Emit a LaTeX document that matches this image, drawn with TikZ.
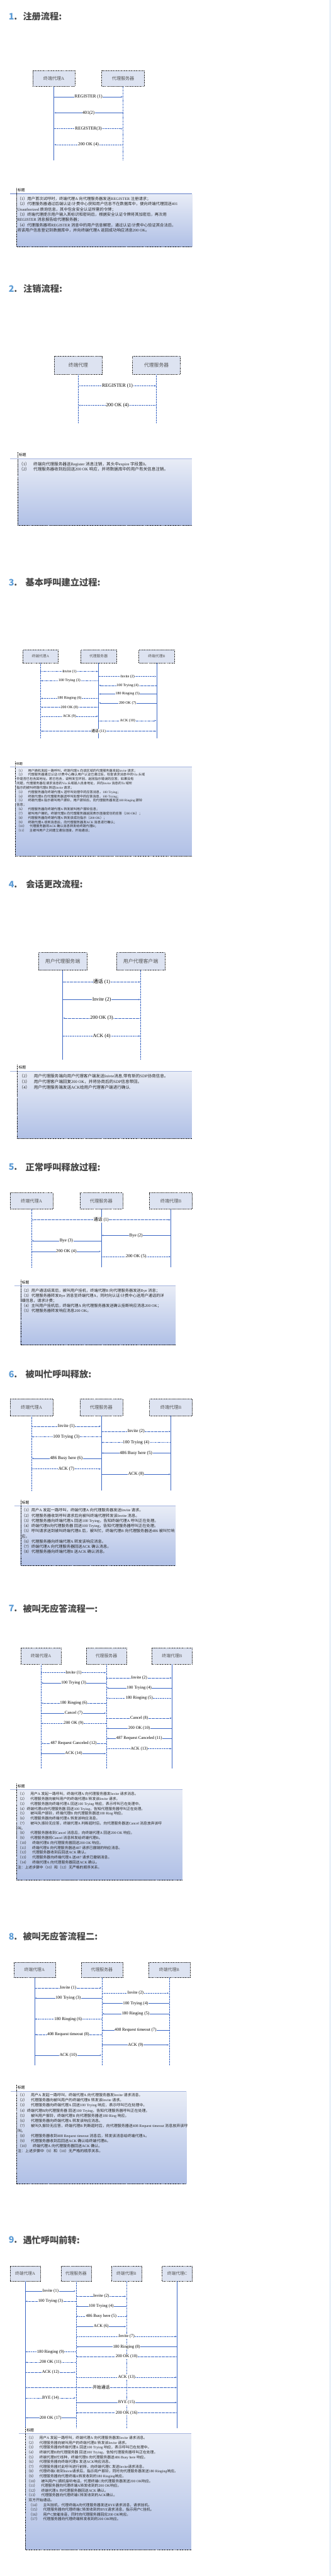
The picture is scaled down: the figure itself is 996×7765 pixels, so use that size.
\documentclass[tikz,border=0pt]{standalone}
\usepackage{fontspec}
\setmainfont{Liberation Serif}
\newfontfamily\cjk{Noto Sans CJK SC}
\usetikzlibrary{arrows.meta}

% CJK characters switch to the CJK family, the rest stays serif
\XeTeXinterchartokenstate=1
\newXeTeXintercharclass\cjkcls
\newcount\cjkcnt
\cjkcnt="3000 \loop\ifnum\cjkcnt<"3040 \XeTeXcharclass\cjkcnt=\cjkcls \advance\cjkcnt by 1 \repeat
\cjkcnt="4E00 \loop\ifnum\cjkcnt<"A000 \XeTeXcharclass\cjkcnt=\cjkcls \advance\cjkcnt by 1 \repeat
\cjkcnt="FF00 \loop\ifnum\cjkcnt<"FFF0 \XeTeXcharclass\cjkcnt=\cjkcls \advance\cjkcnt by 1 \repeat
\XeTeXinterchartoks 0 \cjkcls = {\cjk}
\XeTeXinterchartoks 4095 \cjkcls = {\cjk}
\XeTeXinterchartoks \cjkcls 0 = {\rmfamily}
\XeTeXinterchartoks \cjkcls 4095 = {\rmfamily}

\definecolor{linecol}{HTML}{3A66C4}
\definecolor{boxfill}{HTML}{DDE3F1}
\definecolor{boxtext}{HTML}{555555}
\definecolor{notetop}{HTML}{E8ECF6}
\definecolor{notebot}{HTML}{B0C0E6}
\definecolor{notecapcol}{HTML}{A4B4DF}
\definecolor{numblue}{HTML}{5B9BD5}
\definecolor{titlegray}{HTML}{474747}
\definecolor{edgeblue}{HTML}{CADCF0}

\tikzset{
  sectnum/.style={anchor=west,inner sep=0pt,text=numblue,
    font={\XeTeXinterchartokenstate=0 \cjk\bfseries\fontsize{27}{30}\selectfont}},
  secttitle/.style={anchor=west,inner sep=0pt,text=titlegray,
    font={\XeTeXinterchartokenstate=0 \cjk\bfseries\fontsize{27}{30}\selectfont}},
  agent/.style={draw=black!85,densely dashed,line width=0.7pt,fill=boxfill,
    text=boxtext,inner sep=0pt,anchor=north west},
  lifeS/.style={draw=linecol,line width=0.8pt},
  lifeD/.style={draw=linecol,line width=0.8pt,dash pattern=on 1.5pt off 1pt},
  lifeT/.style={draw=linecol,line width=1.1pt,dash pattern=on 2pt off 1.2pt},
  msg/.style={draw=linecol,line width=0.7pt,->,shorten >=1.5pt},
  lnsolid/.style={msg},
  lndot/.style={msg,line width=1.1pt,dash pattern=on 1.2pt off 1.4pt},
  lnfine/.style={msg,dash pattern=on 1.5pt off 0.8pt},
  lndash/.style={msg,dash pattern=on 3pt off 1.5pt},
  lnboth/.style={lnfine,<->,shorten <=1.5pt},
  lbl/.style={fill=white,inner sep=1pt,text=black},
  notecap/.style={draw=notecapcol,line width=2.2pt},
  noteedge/.style={draw=black,densely dashed,line width=0.7pt},
  notelabel/.style={anchor=west,inner sep=0pt,text=black,font=\fontsize{11}{12}\selectfont},
  notetext/.style={anchor=north west,inner sep=0pt,align=left,text=black!85}
}

\begin{document}
\begin{tikzpicture}[x=1pt,y=-1pt,>={Stealth[length=5pt,width=4pt]}]
\useasboundingbox (0,0) rectangle (996,7765);
\fill[white] (0,0) rectangle (996,7765);
\draw[edgeblue,line width=1.5pt] (995,0) -- (995,7765);

%% section titles
\foreach \nm/\yy/\xx/\tx in {1/50/69/注册流程:, 2/871/70/注销流程:,
  3/1756/77/基本呼叫建立过程:, 4/2666/78/会话更改流程:,
  5/3518/77/正常呼叫释放过程:, 6/4142/77/被叫忙呼叫释放:,
  7/4849/69/被叫无应答流程一:, 8/5838/69/被叫无应答流程二:,
  9/6752/69/遇忙呼叫前转:}
{
  \node[sectnum] (num\nm) at (26,\yy) {\nm{\color{titlegray}.}};
  \node[secttitle] (title\nm) at (\xx,\yy) {\tx};
}

%% 1. register
\begin{scope}[agent/.append style={minimum height=48,font=\fontsize{13.4}{15}\selectfont},
  lbl/.append style={font=\fontsize{13.5}{15}\selectfont}]
\foreach \nm/\xx/\ww/\ls/\tx in {s1a/98/128/lifeS/终端代理A, s1s/306/129/lifeT/代理服务器}
{
  \node[agent,minimum width=\ww] (\nm) at (\xx,212) {\tx};
  \draw[\ls] (\nm.south) -- (\nm.south |- 0,484) coordinate (\nm-end);
}
\foreach \mY/\mA/\mB/\mT/\mS in {
  292/s1a/s1s/REGISTER (1)/lnsolid, 340/s1s/s1a/401(2)/lnsolid,
  388/s1a/s1s/REGISTER(3)/lndot, 436/s1s/s1a/200 OK (4)/lndot}
{
  \draw[\mS] (\mA |- 0,\mY) -- node[lbl] {\mT} (\mB |- 0,\mY);
}
\end{scope}
\shade[top color=notetop,bottom color=notebot] (50,584) rectangle (579,744);
\draw[notecap] (31,584) -- (579,584);
\draw[noteedge] (50,566) -- (50,744) -- (579,744);
\node[notelabel] (lab1) at (53,574) {标题};
\node[notetext,font=\fontsize{12}{15.8}\selectfont] (note1) at (52,593) {%
（1）用户首次试呼时，终端代理A 向代理服务器发送REGISTER 注册请求；\\
（2）代理服务器通过后端认证/计费中心获知用户信息不在数据库中，便向终端代理回送401\\
Unauthorized 质询信息，其中包含安全认证所需的令牌；\\
（3）终端代理提示用户输入其标识和密码后，根据安全认证令牌将其加密后，再次用\\
REGISTER 消息报告给代理服务器；\\
（4）代理服务器将REGISTER 消息中的用户信息解密，通过认证/计费中心验证其合法后，\\
将该用户信息登记到数据库中，并向终端代理A 返回成功响应消息200 OK。};

%% 2. unregister
\begin{scope}[agent/.append style={minimum height=55,font=\fontsize{14.8}{16}\selectfont},
  lbl/.append style={font=\fontsize{15}{16}\selectfont}]
\foreach \nm/\xx/\ww/\ls/\tx in {s2a/163/145/lifeD/终端代理, s2s/399/144/lifeD/代理服务器}
{
  \node[agent,minimum width=\ww] (\nm) at (\xx,1073) {\tx};
  \draw[\ls] (\nm.south) -- (\nm.south |- 0,1276) coordinate (\nm-end);
}
\foreach \mY/\mA/\mB/\mT/\mS in {
  1163/s2a/s2s/REGISTER (1)/lndot, 1222/s2s/s2a/200 OK (4)/lndot}
{
  \draw[\mS] (\mA |- 0,\mY) -- node[lbl] {\mT} (\mB |- 0,\mY);
}
\end{scope}
\shade[top color=notetop,bottom color=notebot] (53,1383) rectangle (578,1584);
\draw[notecap] (31,1383) -- (578,1383);
\draw[noteedge] (53,1363) -- (53,1584) -- (578,1584);
\node[notelabel] (lab2) at (57,1371) {标题};
\node[notetext,font=\fontsize{12.5}{17}\selectfont] (note2) at (57,1392) {%
（1）\quad 终端向代理服务器送Register 消息注销，其头中expire 字段置0。\\
（2）\quad 代理服务器收到后回送200 OK 响应，并将数据库中的用户有关信息注销。};

%% 3. basic call setup
\begin{scope}[agent/.append style={minimum height=40,font=\fontsize{11}{12}\selectfont},
  lbl/.append style={font=\fontsize{11.3}{12}\selectfont}]
\foreach \nm/\xx/\ls/\tx in {s3a/68/lifeD/终端代理A, s3s/243/lifeS/代理服务器, s3b/418/lifeS/终端代理B}
{
  \node[agent,minimum width=107] (\nm) at (\xx,1958) {\tx};
  \draw[\ls] (\nm.south) -- (\nm.south |- 0,2226) coordinate (\nm-end);
}
\foreach \mY/\mA/\mB/\mT/\mS in {
  2024/s3a/s3s/Invite (1)/lndash, 2039/s3s/s3b/Invite (2)/lndot,
  2052/s3s/s3a/100 Trying (3)/lndash, 2066/s3b/s3s/100 Trying (4)/lnfine,
  2092/s3b/s3s/180 Ringing (5)/lnsolid, 2105/s3s/s3a/180 Ringing (6)/lndot,
  2119/s3b/s3s/200 OK (7)/lnsolid, 2132/s3s/s3a/200 OK (8)/lnfine,
  2159/s3a/s3s/ACK (9)/lndot, 2172/s3s/s3b/ACK (10)/lndash,
  2204/s3a/s3b/通话 (11)/lnboth}
{
  \draw[\mS] (\mA |- 0,\mY) -- node[lbl] {\mT} (\mB |- 0,\mY);
}
\end{scope}
\shade[top color=notetop,bottom color=notebot] (46,2312) rectangle (578,2580);
\draw[notecap] (30,2312) -- (578,2312);
\draw[noteedge] (46,2295) -- (46,2580) -- (578,2580);
\node[notelabel,font=\fontsize{9.5}{10}\selectfont] (lab3) at (49,2303) {标题};
\node[notetext,font=\fontsize{9.8}{12.95}\selectfont] (note3) at (50,2317.6) {%
（1）\quad 用户摘机发起一路呼叫，终端代理A 向该区域的代理服务器发起Invite 请求；\\
（2）\quad 代理服务器通过认证/计费中心确认用户认证已通过后，检查请求消息中的Via 头域\\
中是否已包含其地址。若已包含，说明发生环回，返回指示错误的应答；如果没有\\
问题，代理服务器在请求消息的Via 头域插入自身地址，并向Invite 消息的To 域所\\
指示的被叫终端代理B 转送Invite 请求；\\
（3）\quad 代理服务器向终端代理A 送呼叫处理中的应答消息，100 Trying；\\
（4）\quad 终端代理B 向代理服务器送呼叫处理中的应答消息，100 Trying；\\
（5）\quad 终端代理B 指示被叫用户振铃，用户振铃后，向代理服务器发送180 Ringing 振铃\\
信息；\\
（6）\quad 代理服务器向终端代理A 转发被叫用户振铃信息；\\
（7）\quad 被叫用户摘机，终端代理B 向代理服务器返回表示连接成功的应答（200 OK）；\\
（8）\quad 代理服务器向终端代理A 转发该成功指示（200 OK）；\\
（9）\quad 终端代理A 收到消息后，向代理服务器发ACK 消息进行确认；\\
（10）\quad 代理服务器将ACK 确认消息转发给终端代理B；\\
（11）\quad 主被叫用户之间建立通信连接，开始通话；};

%% 4. session change
\begin{scope}[agent/.append style={minimum height=54,font=\fontsize{15}{16}\selectfont},
  lbl/.append style={font=\fontsize{15}{16}\selectfont}]
\foreach \nm/\xx/\ls/\tx in {s4a/116/lifeS/用户代理服务端, s4b/351/lifeD/用户代理客户端}
{
  \node[agent,minimum width=145] (\nm) at (\xx,2870) {\tx};
  \draw[\ls] (\nm.south) -- (\nm.south |- 0,3194) coordinate (\nm-end);
}
\foreach \mY/\mA/\mB/\mT/\mS in {
  2960/s4a/s4b/通话 (1)/lnfine, 3013/s4a/s4b/Invite (2)/lnsolid,
  3069/s4b/s4a/200 OK (3)/lnfine, 3123/s4a/s4b/ACK (4)/lndot}
{
  \draw[\mS] (\mA |- 0,\mY) -- node[lbl] {\mT} (\mB |- 0,\mY);
}
\end{scope}
\shade[top color=notetop,bottom color=notebot] (52,3230) rectangle (578,3431);
\draw[notecap] (31,3230) -- (578,3230);
\draw[noteedge] (52,3209) -- (52,3431) -- (578,3431);
\node[notelabel] (lab4) at (56,3217) {标题};
\node[notetext,font=\fontsize{12.5}{17}\selectfont] (note4) at (58,3238) {%
（2）\quad 用户代理服务端向用户代理客户端发送Inivte消息,带有新的SDP协商信息。\\
（3）\quad 用户代理客户端回复200 OK，并将协商后的SDP信息带回。\\
（4）\quad 用户代理服务端发送ACK给用户代理客户端进行确认.};

%% 5. normal release
\begin{scope}[agent/.append style={minimum height=49,font=\fontsize{13.6}{15}\selectfont},
  lbl/.append style={font=\fontsize{13.3}{15}\selectfont}]
\foreach \nm/\xx/\ls/\tx in {s5a/30/lifeD/终端代理A, s5s/240/lifeS/代理服务器, s5b/450/lifeS/终端代理B}
{
  \node[agent,minimum width=129] (\nm) at (\xx,3595) {\tx};
  \draw[\ls] (\nm.south) -- (\nm.south |- 0,3820) coordinate (\nm-end);
}
\foreach \mY/\mA/\mB/\mT/\mS in {
  3677/s5a/s5b/通话 (1)/lnboth, 3724/s5b/s5s/Bye (2)/lnsolid,
  3740/s5s/s5a/Bye (3)/lnsolid, 3772/s5a/s5s/200 OK (4)/lnsolid,
  3788/s5s/s5b/200 OK (5)/lndot}
{
  \draw[\mS] (\mA |- 0,\mY) -- node[lbl] {\mT} (\mB |- 0,\mY);
}
\end{scope}
\shade[top color=notetop,bottom color=notebot] (62,3876) rectangle (529,4054);
\draw[notecap] (43,3876) -- (529,3876);
\draw[noteedge] (62,3857) -- (62,4054) -- (529,4054);
\node[notelabel] (lab5) at (66,3865) {标题};
\node[notetext,font=\fontsize{11.8}{15.3}\selectfont] (note5) at (65,3884) {%
（2）用户通话结束后，被叫用户挂机，终端代理B 向代理服务器发送Bye 消息；\\
（3）代理服务器转发Bye 消息至终端代理A，同时向认证/计费中心送用户通话的详\\
细信息，请求计费；\\
（4）主叫用户挂机后，终端代理A 向代理服务器发送确认挂断响应消息200 OK；\\
（5）代理服务器转发响应消息200 OK。};

%% 6. busy release
\begin{scope}[agent/.append style={minimum height=50,font=\fontsize{13.6}{15}\selectfont},
  lbl/.append style={font=\fontsize{13.6}{15}\selectfont}]
\foreach \nm/\xx/\ls/\tx in {s6a/30/lifeD/终端代理A, s6s/240/lifeS/代理服务器, s6b/450/lifeS/终端代理B}
{
  \node[agent,minimum width=129] (\nm) at (\xx,4217) {\tx};
  \draw[\ls] (\nm.south) -- (\nm.south |- 0,4493) coordinate (\nm-end);
}
\foreach \mY/\mA/\mB/\mT/\mS in {
  4299/s6a/s6s/Invite (1)/lnfine, 4315/s6s/s6b/Invite (2)/lnfine,
  4331/s6s/s6a/100 Trying (3)/lndash, 4348/s6b/s6s/100 Trying (4)/lndash,
  4380/s6b/s6s/486 Busy here (5)/lnsolid, 4396/s6s/s6a/486 Busy here (6)/lnsolid,
  4428/s6a/s6s/ACK (7)/lndot, 4444/s6s/s6b/ACK (8)/lnsolid}
{
  \draw[\mS] (\mA |- 0,\mY) -- node[lbl] {\mT} (\mB |- 0,\mY);
}
\end{scope}
\shade[top color=notetop,bottom color=notebot] (62,4540) rectangle (529,4719);
\draw[notecap] (43,4540) -- (529,4540);
\draw[noteedge] (62,4521) -- (62,4719) -- (529,4719);
\node[notelabel] (lab6) at (66,4529) {标题};
\node[notetext,font=\fontsize{11.8}{15.6}\selectfont] (note6) at (65,4547) {%
（1）用户A 发起一路呼叫，终端代理A 向代理服务器发送Invite 请求。\\
（2）代理服务器收到呼叫请求后向被叫终端代理转发该Invite 消息。\\
（3）代理服务器向终端代理A 回送100 Trying，告知终端代理A 呼叫正在处理。\\
（4）终端代理B向代理服务器 回送100 Trying，告知代理服务器呼叫正在处理。\\
（5）呼叫请求送到被叫终端代理B 后，被叫忙，终端代理B 向代理服务器送486 被叫忙响\\
应。\\
（6）代理服务器向终端代理A 转发该响应消息。\\
（7）终端代理A 向代理服务器回送ACK 确认消息。\\
（8）代理服务器向终端代理B 送ACK 确认消息。};

%% 7. no answer, case one
\begin{scope}[agent/.append style={minimum height=50,font=\fontsize{13}{15}\selectfont},
  lbl/.append style={font=\fontsize{12.8}{14}\selectfont}]
\foreach \nm/\xx/\ls/\tx in {s7a/62/lifeD/终端代理A, s7s/259/lifeD/代理服务器, s7b/457/lifeS/终端代理B}
{
  \node[agent,minimum width=122] (\nm) at (\xx,4966) {\tx};
  \draw[\ls] (\nm.south) -- (\nm.south |- 0,5330) coordinate (\nm-end);
}
\foreach \mY/\mA/\mB/\mT/\mS in {
  5042/s7a/s7s/Invite (1)/lndot, 5058/s7s/s7b/Invite (2)/lnfine,
  5073/s7s/s7a/100 Trying (3)/lnsolid, 5088/s7b/s7s/100 Trying (4)/lnsolid,
  5119/s7b/s7s/180 Ringing (5)/lndot, 5134/s7s/s7a/180 Ringing (6)/lnfine,
  5164/s7a/s7s/Cancel (7)/lnsolid, 5179/s7s/s7b/Cancel (8)/lnfine,
  5195/s7s/s7a/200 OK (9)/lndot, 5210/s7b/s7s/200 OK (10)/lnsolid,
  5240/s7b/s7s/487 Request Canceled (11)/lnsolid,
  5255/s7s/s7a/487 Request Canceled (12)/lnfine,
  5271/s7s/s7b/ACK (13)/lndot, 5286/s7a/s7s/ACK (14)/lnsolid}
{
  \draw[\mS] (\mA |- 0,\mY) -- node[lbl] {\mT} (\mB |- 0,\mY);
}
\end{scope}
\shade[top color=notetop,bottom color=notebot] (49,5395) rectangle (549,5667);
\draw[notecap] (31,5395) -- (549,5395);
\draw[noteedge] (49,5376) -- (49,5667) -- (549,5667);
\node[notelabel] (lab7) at (53,5384) {标题};
\node[notetext,font=\fontsize{11}{14.7}\selectfont] (note7) at (53,5402.5) {%
（1）\quad 用户A 发起一路呼叫，终端代理A 向代理服务器发Invite 请求消息。\\
（2）\quad 代理服务器向被叫用户的终端代理B 转发该Invite 请求。\\
（3）\quad 代理服务器向终端代理A 回送100 Trying 响应，表示呼叫已在处理中。\\
（4）终端代理B向代理服务器 回送100 Trying，告知代理服务器呼叫正在处理。\\
（5）\quad 被叫用户振铃，终端代理B 向代理服务器送180 Ring 响应。\\
（6）\quad 代理服务器向终端代理A 转发该响应消息。\\
（7）\quad 被叫久振铃无应答，终端代理A 判断超时后，向代理服务器送Cancel 消息放弃该呼\\
叫。\\
（8）\quad 代理服务器收到Cancel 消息后，向终端代理A 回送200 OK 响应。\\
（9）\quad 代理服务器将Cancel 消息转发给终端代理B。\\
（10）\quad 终端代理B 向代理服务器回送200 OK 响应。\\
（11）\quad 终端代理B 向代理服务器送487 请求已撤销的响应消息。\\
（12）\quad 代理服务器收到后回送ACK 确认。\\
（13）\quad 代理服务器向终端代理A 送487 请求已撤销消息。\\
（14）\quad 终端代理A 向代理服务器回送ACK 确认。\\
注：上述步骤中（10）和（12）无严格的顺序关系。};

%% 8. no answer, case two
\begin{scope}[agent/.append style={minimum height=47,font=\fontsize{13}{15}\selectfont},
  lbl/.append style={font=\fontsize{13}{14}\selectfont}]
\foreach \nm/\xx/\ls/\tx in {s8a/41/lifeS/终端代理A, s8s/244/lifeD/代理服务器, s8b/447/lifeD/终端代理B}
{
  \node[agent,minimum width=125] (\nm) at (\xx,5914) {\tx};
  \draw[\ls] (\nm.south) -- (\nm.south |- 0,6226) coordinate (\nm-end);
}
\foreach \mY/\mA/\mB/\mT/\mS in {
  5992/s8a/s8s/Invite (1)/lnfine, 6008/s8s/s8b/Invite (2)/lndot,
  6023/s8s/s8a/100 Trying (3)/lnsolid, 6039/s8b/s8s/100 Trying (4)/lnsolid,
  6070/s8b/s8s/180 Ringing (5)/lnsolid, 6086/s8s/s8a/180 Ringing (6)/lndot,
  6120/s8b/s8s/408 Request timeout (7)/lnsolid,
  6133/s8s/s8a/408 Request timeout (8)/lnfine,
  6164/s8s/s8b/ACK (9)/lnsolid, 6195/s8a/s8s/ACK (10)/lnsolid}
{
  \draw[\mS] (\mA |- 0,\mY) -- node[lbl] {\mT} (\mB |- 0,\mY);
}
\end{scope}
\shade[top color=notetop,bottom color=notebot] (49,6304) rectangle (562,6582);
\draw[notecap] (32,6304) -- (562,6304);
\draw[noteedge] (49,6285) -- (49,6582) -- (562,6582);
\node[notelabel] (lab8) at (53,6293) {标题};
\node[notetext,font=\fontsize{11.4}{15.2}\selectfont] (note8) at (53,6310.3) {%
（1）\quad 用户A 发起一路呼叫，终端代理A 向代理服务器发Invite 请求消息。\\
（2）\quad 代理服务器向被叫用户的终端代理B 转发该Invite 请求。\\
（3）\quad 代理服务器向终端代理A 回送100 Trying 响应，表示呼叫已在处理中。\\
（4）终端代理B向代理服务器 回送100 Trying，告知代理服务器呼叫正在处理。\\
（5）\quad 被叫用户振铃，终端代理B 向代理服务器送180 Ring 响应。\\
（6）\quad 代理服务器向终端代理A 转发该响应消息。\\
（7）\quad 被叫久振铃无应答，终端代理B 判断超时后，向代理服务器送408 Request timeout 消息放弃该呼\\
叫。\\
（8）\quad 代理服务器收到408 Request timeout 消息后，转发该消息给终端代理A。\\
（9）\quad 代理服务器收到后回送ACK 确认给终端代理B。\\
（10）\quad 终端代理A 向代理服务器回送ACK 确认。\\
注：上述步骤中（9）和（10）无严格的顺序关系。};

%% 9. call forwarding on busy
\begin{scope}[agent/.append style={minimum height=46,font=\fontsize{12.8}{14}\selectfont},
  lbl/.append style={font=\fontsize{12.8}{14}\selectfont}]
\foreach \nm/\xx/\ls/\tx in {s9a/30/lifeS/终端代理A, s9s/183/lifeD/代理服务器,
  s9b/335/lifeT/终端代理B, s9c/488/lifeS/终端代理C}
{
  \node[agent,minimum width=91] (\nm) at (\xx,6830) {\tx};
  \draw[\ls] (\nm.south) -- (\nm.south |- 0,7319) coordinate (\nm-end);
}
\foreach \mY/\mA/\mB/\mT/\mS in {
  6906/s9a/s9s/Invite (1)/lnsolid, 6922/s9s/s9b/Invite (2)/lnfine,
  6937/s9s/s9a/100 Trying (3)/lnfine, 6952/s9b/s9s/100 Trying (4)/lnsolid,
  6982/s9b/s9s/486 Busy here (5)/lndot, 7013/s9s/s9b/ACK (6)/lnsolid,
  7043/s9s/s9c/Invite (7)/lndot, 7074/s9c/s9s/180 Ringing (8)/lnsolid,
  7089/s9s/s9a/180 Ringing (9)/lndot, 7104/s9c/s9s/200 OK (10)/lnfine,
  7121/s9s/s9a/200 OK (11)/lndash, 7151/s9a/s9s/ACK (12)/lnfine,
  7166/s9s/s9c/ACK (13)/lndot, 7197/s9a/s9c/开始通话/lnboth,
  7228/s9a/s9s/BYE (14)/lndash, 7242/s9s/s9c/BYE (15)/lnsolid,
  7273/s9c/s9s/200 OK (16)/lnfine, 7288/s9s/s9a/200 OK (17)/lnsolid}
{
  \draw[\mS] (\mA |- 0,\mY) -- node[lbl] {\mT} (\mB |- 0,\mY);
}
\end{scope}
\shade[top color=notetop,bottom color=notebot] (76,7336) rectangle (576,7685);
\draw[notecap] (57,7336) -- (576,7336);
\draw[noteedge] (76,7317) -- (76,7685) -- (576,7685);
\node[notelabel] (lab9) at (80,7326) {标题};
\node[notetext,font=\fontsize{11}{14.4}\selectfont] (note9) at (80,7343.5) {%
（1）\quad 用户A 发起一路呼叫，终端代理A 向代理服务器发Invite 请求消息。\\
（2）\quad 代理服务器向被叫用户的终端代理B 转发该Invite 请求。\\
（3）\quad 代理服务器向终端代理A 回送100 Trying 响应，表示呼叫已在处理中。\\
（4）\quad 终端代理B向代理服务器 回送100 Trying，告知代理服务器呼叫正在处理。\\
（5）\quad 终端代理B忙线种，终端代理B 向代理服务器送486 Busy here 响应。\\
（6）\quad 代理服务器向终端代理B 发送ACK响应消息。\\
（7）\quad 代理服务器对此呼叫进行前转，向终端代理C 发送Invite请求消息。\\
（8）\quad 代理终端C收到Inivte请求后，指示用户振铃，同时向代理服务器发送180 Ringing响应。\\
（9）\quad 代理服务器向代理终端A转发收到的180 Ringing响应。\\
（10）\quad 被叫用户C摘机接听电话，代理终端C向代理服务器发送200 OK响应。\\
（11）\quad 代理服务器向代理终端A转发收到的200 OK响应。\\
（12）\quad 终端代理A 向代理服务器回送ACK 确认。\\
（13）\quad 代理服务器向代理终端C转发收到的ACK确认。\\
\hspace{6pt}双方开始通话。\\
\hspace{6pt}（14）\quad 主叫挂机，代理终端A向代理服务器发送BYE请求消息，请求挂机。\\
\hspace{6pt}（15）\quad 代理服务器向代理终端C转发收到的BYE请求消息，指示用户C挂机。\\
\hspace{6pt}（16）\quad 用户C放催挂音，同时向代理服务器回应200 OK响应。\\
\hspace{6pt}（17）\quad 代理服务器向代理终端转发收到的200 OK响应。};
\end{tikzpicture}
\end{document}
